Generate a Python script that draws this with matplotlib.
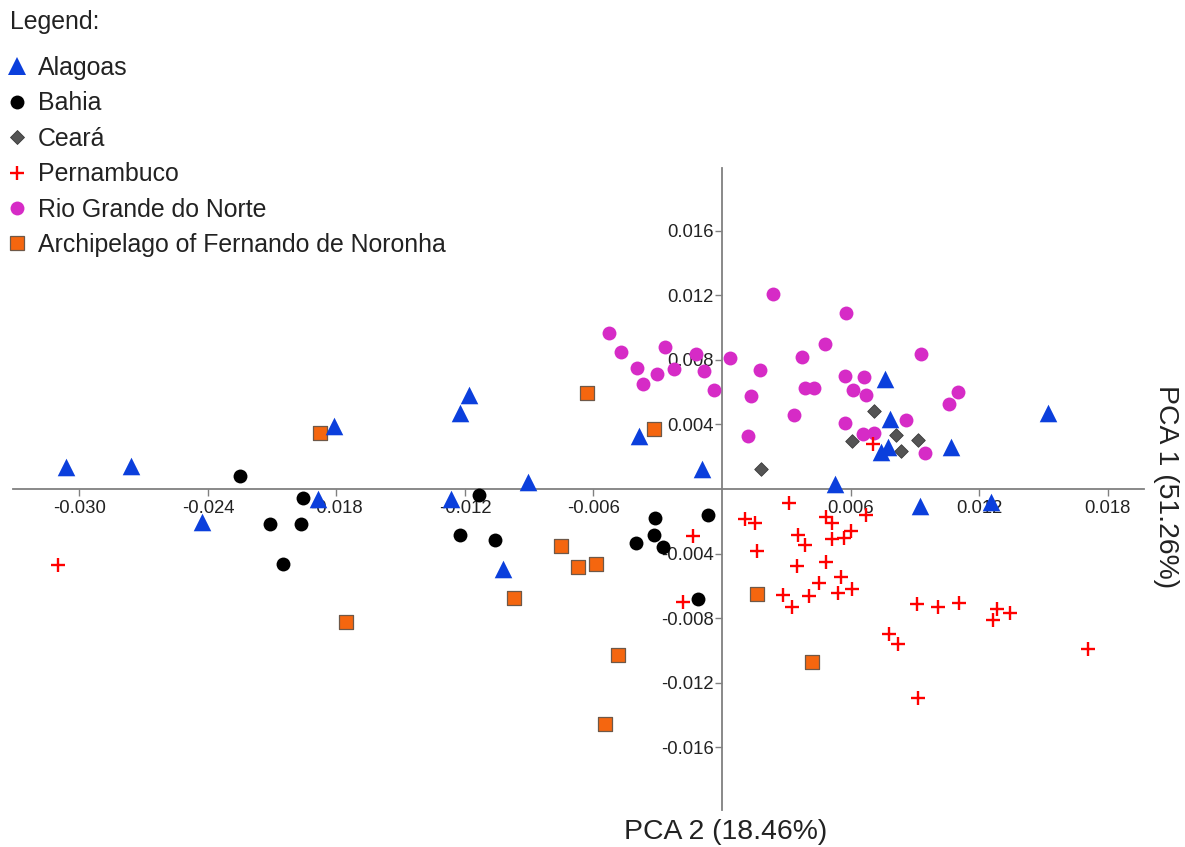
import matplotlib
matplotlib.use("Agg")
import matplotlib.pyplot as plt
from matplotlib.lines import Line2D

plt.rcParams['font.family'] = ['Liberation Sans', 'DejaVu Sans']

# PCA scores per state (PCA 2 on x, PCA 1 on y)
alagoas_x = [-0.03062, -0.02760, -0.02430, -0.01884, -0.01810, -0.01266, -0.01222,
             -0.01183, -0.00904, -0.01024, -0.00386, -0.00095, 0.00529, 0.00762,
             0.00784, 0.00742, 0.00773, 0.00926, 0.01069, 0.01257, 0.01520]
alagoas_y = [0.00136, 0.00143, -0.00205, -0.00060, 0.00389, -0.00060, 0.00471,
             0.00581, 0.00043, -0.00494, 0.00327, 0.00122, 0.00029, 0.00685,
             0.00437, 0.00229, 0.00260, -0.00107, 0.00259, -0.00081, 0.00471]

bahia_x = [-0.02249, -0.01955, -0.02110, -0.01966, -0.02048, -0.01136, -0.01222,
           -0.01060, -0.00311, -0.00316, -0.00402, -0.00277, -0.00064, -0.00114]
bahia_y = [0.00079, -0.00053, -0.00219, -0.00219, -0.00463, -0.00039, -0.00283,
           -0.00314, -0.00177, -0.00287, -0.00335, -0.00360, -0.00163, -0.00684]

ceara_x = [0.00182, 0.00607, 0.00711, 0.00812, 0.00836, 0.00913]
ceara_y = [0.00122, 0.00298, 0.00482, 0.00337, 0.00236, 0.00306]

pernambuco_x = [-0.03098, -0.00137, -0.00181, 0.00311, 0.00107, 0.00155, 0.00486,
                0.00514, 0.00672, 0.00356, 0.00389, 0.00514, 0.00571, 0.00602,
                0.00163, 0.00350, 0.00486, 0.00556, 0.00454, 0.00607, 0.00540,
                0.00286, 0.00404, 0.00327, 0.00909, 0.01010, 0.01108, 0.01284,
                0.01267, 0.01345, 0.00781, 0.00820, 0.01707, 0.00913, 0.00706]
pernambuco_y = [-0.00469, -0.00291, -0.00703, -0.00087, -0.00184, -0.00211, -0.00174,
                -0.00208, -0.00163, -0.00287, -0.00345, -0.00308, -0.00301, -0.00260,
                -0.00386, -0.00478, -0.00453, -0.00546, -0.00580, -0.00622, -0.00645,
                -0.00659, -0.00665, -0.00732, -0.00715, -0.00732, -0.00707, -0.00742,
                -0.00810, -0.00769, -0.00897, -0.00959, -0.00994, -0.01294, 0.00277]

rgn_x = [-0.00526, -0.00472, -0.00397, -0.00371, -0.00303, -0.00265, -0.00226,
         -0.00121, -0.00083, -0.00036, 0.00039, 0.00135, 0.00123, 0.00177,
         0.00240, 0.00338, 0.00374, 0.00389, 0.00428, 0.00482, 0.00579,
         0.00574, 0.00613, 0.00664, 0.00672, 0.00574, 0.00660, 0.00711,
         0.00859, 0.00929, 0.01058, 0.01100, 0.00949]
rgn_y = [0.00967, 0.00850, 0.00753, 0.00654, 0.00716, 0.00881, 0.00747,
         0.00840, 0.00732, 0.00612, 0.00815, 0.00577, 0.00327, 0.00736,
         0.01207, 0.00457, 0.00819, 0.00629, 0.00624, 0.00902, 0.01088,
         0.00699, 0.00612, 0.00695, 0.00581, 0.00412, 0.00344, 0.00347,
         0.00426, 0.00835, 0.00525, 0.00604, 0.00226]

noronha_x = [-0.01877, -0.01756, -0.00632, -0.00316, -0.00752, -0.00674, -0.00588,
             -0.00970, -0.00484, -0.00545, 0.00163, 0.00420]
noronha_y = [0.00347, -0.00825, 0.00598, 0.00375, -0.00355, -0.00484, -0.00463,
             -0.00676, -0.01031, -0.01459, -0.00649, -0.01073]

x_ticks = [-0.030, -0.024, -0.018, -0.012, -0.006, 0.006, 0.012, 0.018]
y_ticks = [-0.016, -0.012, -0.008, -0.004, 0.004, 0.008, 0.012, 0.016]

fig = plt.figure(figsize=(11.85, 8.47), dpi=100)
ax = fig.add_axes([13 / 1185, 37 / 847, 1131 / 1185, 642 / 847])

BLUE = '#0b3fdc'
MAGENTA = '#d62bc6'
ORANGE = '#f5660f'
GRAY = '#545454'
RED = '#ff0000'

ax.scatter(rgn_x, rgn_y, marker='o', s=100, color=MAGENTA, linewidths=0, zorder=3)
ax.scatter(ceara_x, ceara_y, marker='D', s=48, color=GRAY, edgecolors='#3a3a3a', linewidths=0.6, zorder=4)
ax.scatter(bahia_x, bahia_y, marker='o', s=100, color='black', linewidths=0, zorder=4)
ax.scatter(noronha_x, noronha_y, marker='s', s=110, color=ORANGE, edgecolors='#6e5848', linewidths=0.9, zorder=4)
ax.scatter(alagoas_x, alagoas_y, marker='^', s=160, color=BLUE, linewidths=0, zorder=5)
ax.scatter(pernambuco_x, pernambuco_y, marker='+', s=95, color=RED, linewidths=1.7, zorder=6)

ax.set_xlim(-0.0331, 0.0197)
ax.set_ylim(-0.0199, 0.0199)

for side in ['top', 'right']:
    ax.spines[side].set_visible(False)
for side in ['left', 'bottom']:
    ax.spines[side].set_position(('data', 0))
    ax.spines[side].set_color('#808080')
    ax.spines[side].set_linewidth(1.3)

ax.set_xticks(x_ticks)
ax.set_yticks(y_ticks)
ax.set_xticklabels(['%.3f' % v for v in x_ticks])
ax.set_yticklabels(['%.3f' % v for v in y_ticks])
ax.tick_params(axis='both', direction='out', length=5, width=1, color='#808080',
               labelsize=13.3, labelcolor='#222222')
ax.tick_params(axis='x', pad=3)
ax.tick_params(axis='y', pad=1)
ax.patch.set_visible(False)

fig.text(726 / 1185, 1 - 832 / 847, 'PCA 2 (18.46%)', ha='center', va='center',
         fontsize=20.4, color='#222222')
fig.text(1166 / 1185, 1 - 487 / 847, 'PCA 1 (51.26%)', ha='center', va='center',
         rotation=270, fontsize=20.4, color='#222222')

fig.text(10 / 1185, 1 - 22 / 847, 'Legend:', ha='left', va='center',
         fontsize=17.9, color='#222222')

handles = [
    Line2D([], [], ls='none', marker='^', ms=12.5, color=BLUE, mew=0),
    Line2D([], [], ls='none', marker='o', ms=10, color='black', mew=0),
    Line2D([], [], ls='none', marker='D', ms=7, color=GRAY, mec='#3a3a3a', mew=0.6),
    Line2D([], [], ls='none', marker='+', ms=10.5, color=RED, mew=1.7),
    Line2D([], [], ls='none', marker='o', ms=10, color=MAGENTA, mew=0),
    Line2D([], [], ls='none', marker='s', ms=10.5, color=ORANGE, mec='#6e5848', mew=0.9),
]
labels = ['Alagoas', 'Bahia', 'Ceará', 'Pernambuco', 'Rio Grande do Norte',
          'Archipelago of Fernando de Noronha']
leg = fig.legend(handles, labels, loc='upper left', bbox_to_anchor=(8.3 / 1185, 1 - 56 / 847),
                 frameon=False, fontsize=17.9, handlelength=0.7, handletextpad=0.49,
                 labelspacing=0.46, borderpad=0, borderaxespad=0)
for t in leg.get_texts():
    t.set_color('#222222')

fig.savefig('out.png', dpi=100)
